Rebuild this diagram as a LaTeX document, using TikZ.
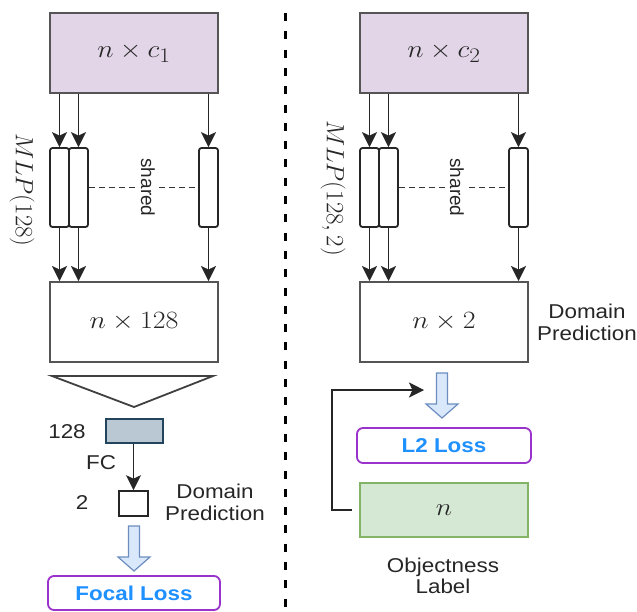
\documentclass[tikz,border=0pt]{standalone}
\usepackage{fontspec}
\setsansfont{Liberation Sans}
\usetikzlibrary{arrows.meta}
\definecolor{lav}{HTML}{E1D5E7}
\definecolor{boxgray}{HTML}{555555}
\definecolor{fcfill}{HTML}{BAC8D3}
\definecolor{fcdraw}{HTML}{23445D}
\definecolor{lossdraw}{HTML}{9933CC}
\definecolor{losstext}{HTML}{1E90FF}
\definecolor{grfill}{HTML}{D5E8D4}
\definecolor{grdraw}{HTML}{82B366}
\definecolor{hafill}{HTML}{DAE8FC}
\definecolor{hadraw}{HTML}{6C8EBF}
\newcommand{\hs}[1]{\scalebox{1.12}[1]{#1}}
\tikzset{
  bigbox/.style={draw=boxgray, line width=2pt, minimum width=168pt, minimum height=80pt, inner sep=0pt},
  mlpbox/.style={draw=black!85, line width=1.8pt, rounded corners=2.5pt, minimum width=19pt, minimum height=79pt, inner sep=0pt},
  arr/.style={line width=1.8pt, draw=black!85, -{Stealth[length=15pt,width=15pt,inset=3.5pt,line width=0.5pt]}},
  lbl/.style={font=\sffamily\fontsize{20}{21.5}\selectfont, align=center, inner sep=0pt, text=black!85},
  rotlbl/.style={font=\sffamily\fontsize{19}{21}\selectfont, rotate=-90, inner sep=2pt, text=black!85},
  mathlbl/.style={font=\fontsize{24.88}{28}\selectfont, inner sep=0pt, text=black!85},
  lossbox/.style={draw=lossdraw, line width=1.8pt, rounded corners=6pt, fill=white, font=\sffamily\bfseries\fontsize{20}{22}\selectfont, text=losstext, inner sep=0pt},
  hollow/.style={draw=hadraw, fill=hafill, line width=1.2pt, line join=miter},
  shareline/.style={line width=1.3pt, draw=black!80, dash pattern=on 6pt off 4pt}
}
\begin{document}
\begin{tikzpicture}[x=1pt, y=-1pt]
\useasboundingbox (0,0) rectangle (637,611);

% ---------- left column ----------
\node[bigbox, fill=lav] (top1) at (134,53) {};
\node[mathlbl] at (top1.center) {\hs{$n\times c_1$}};
\node[mlpbox] (m1a) at (59.5,187.5) {};
\node[mlpbox] (m1b) at (78.5,187.5) {};
\node[mlpbox] (m1c) at (208.5,187.5) {};
\node[bigbox] (mid1) at (134,322) {};
\node[mathlbl] at (mid1.center) {\hs{$n\times 128$}};
\node[mathlbl, rotate=-90] (mlp1) at (22,190) {$MLP(128)$};

\foreach \m in {m1a,m1b,m1c}{
  \draw[arr] (top1.south -| \m) -- (\m.north);
  \draw[arr] (\m.south) -- (mid1.north -| \m);
}
\draw[shareline] (m1b.east) -- (m1c.west);
\node[rotlbl, fill=white] (sh1) at (148,187.5) {shared};

\draw[line width=1.8pt, draw=black!75, line join=miter] (52,376) -- (213,376) -- (134,407) -- cycle;

\node[draw=fcdraw, fill=fcfill, line width=1.8pt, minimum width=57pt, minimum height=24pt, inner sep=0pt] (fc128) at (134.5,431) {};
\node[lbl] (l128) at (67,432) {\hs{128}};
\node[draw=black!85, line width=1.6pt, minimum width=29pt, minimum height=25pt, inner sep=0pt] (two) at (133.5,503.5) {};
\draw[arr] (fc128.south -| two) -- (two.north);
\node[lbl] (lfc) at (101,463) {\hs{FC}};
\node[lbl] (l2) at (82,503) {\hs{2}};
\node[lbl] (dp1) at (215,502.5) {\hs{Domain}\\\hs{Prediction}};

\draw[hollow] (128.5,526) -- (139.5,526) -- (139.5,557) -- (150,557) -- (134,571) -- (118,557) -- (128.5,557) -- cycle;
\node[lossbox, minimum width=172pt, minimum height=34pt] (focal) at (134,593) {\hs{Focal Loss}};

% ---------- divider ----------
\draw[line width=3pt, dash pattern=on 8pt off 10.3pt] (285,13) -- (285,611);

% ---------- right column ----------
\node[bigbox, fill=lav] (top2) at (444,53) {};
\node[mathlbl] at (top2.center) {\hs{$n\times c_2$}};
\node[mlpbox] (m2a) at (369.5,187.5) {};
\node[mlpbox] (m2b) at (388.5,187.5) {};
\node[mlpbox] (m2c) at (518.5,187.5) {};
\node[bigbox] (mid2) at (444,322) {};
\node[mathlbl] at (mid2.center) {\hs{$n\times 2$}};
\node[mathlbl, rotate=-90] (mlp2) at (333,188) {$MLP(128,2)$};

\foreach \m in {m2a,m2b,m2c}{
  \draw[arr] (top2.south -| \m) -- (\m.north);
  \draw[arr] (\m.south) -- (mid2.north -| \m);
}
\draw[shareline] (m2b.east) -- (m2c.west);
\node[rotlbl, fill=white] (sh2) at (457,187.5) {shared};

\node[lbl] (dp2) at (587,322.5) {\hs{Domain}\\\hs{Prediction}};

\draw[hollow] (436.5,373) -- (447.5,373) -- (447.5,404) -- (458,404) -- (442,418) -- (426,404) -- (436.5,404) -- cycle;
\node[lossbox, minimum width=174pt, minimum height=35pt] (l2loss) at (444,445.5) {\hs{L2 Loss}};
\node[draw=grdraw, fill=grfill, line width=1.8pt, minimum width=168pt, minimum height=54pt, inner sep=0pt] (green) at (444,510) {};
\node[mathlbl] at (green.center) {\hs{$n$}};
\node[lbl] (obj) at (443,576) {\hs{Objectness}\\\hs{Label}};

\coordinate (fbc) at (332,390);
\coordinate (fbtip) at (424,390);
\draw[arr] ([xshift=-7pt]green.west) -| (fbc) -- (fbtip);
\end{tikzpicture}
\end{document}
